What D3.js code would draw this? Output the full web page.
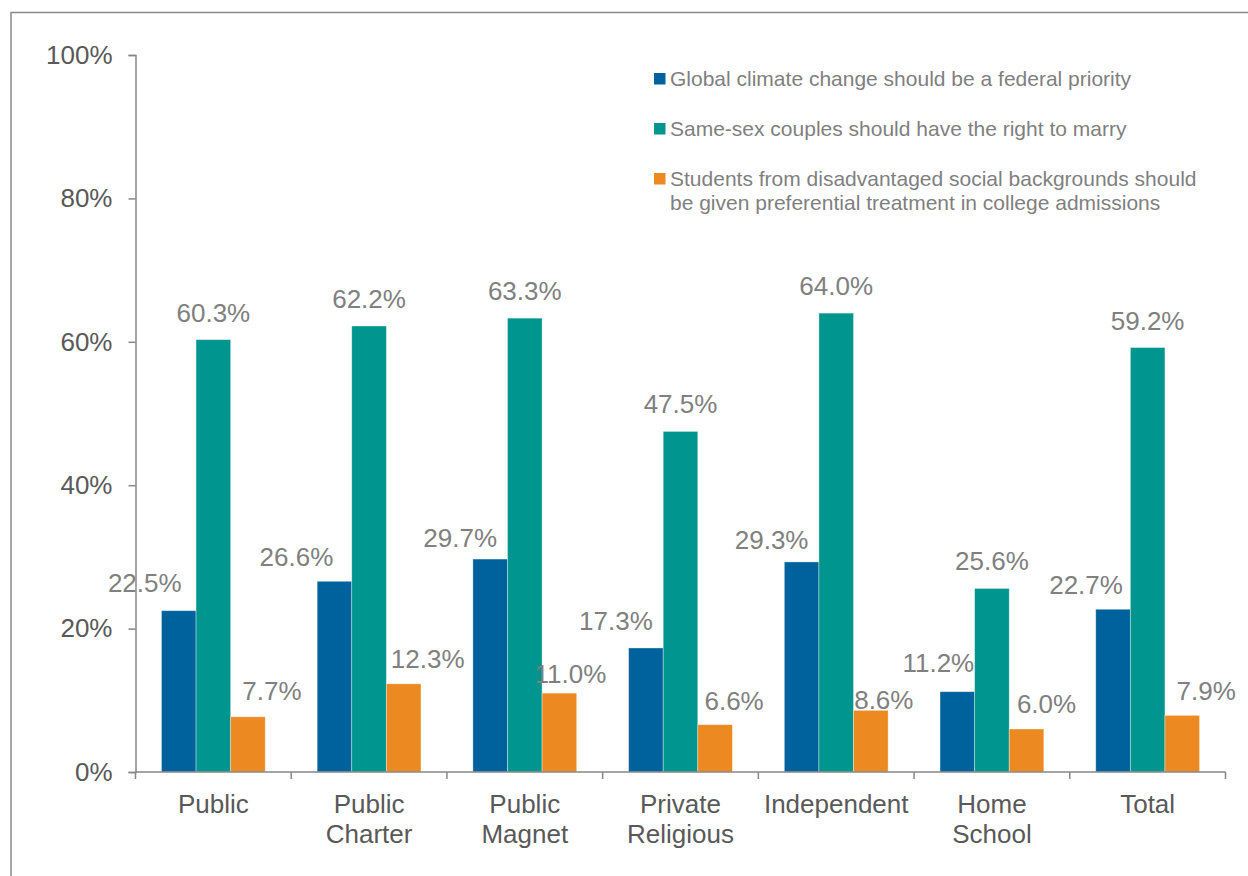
<!DOCTYPE html>
<html>
<head>
<meta charset="utf-8">
<script src="https://cdn.jsdelivr.net/npm/d3@7"></script>
<style>
  html, body { margin: 0; padding: 0; background: #fff; }
  svg { display: block; font-family: "Liberation Sans", Arial, sans-serif; }
</style>
</head>
<body>
<svg id="chart" width="1248" height="876"></svg>
<script>
// School types along the x axis
const categories = ["Public", "Public Charter", "Public Magnet", "Private Religious", "Independent", "Home School", "Total"];

// Series (share of respondents, %)
const seriesNames = [
  "Global climate change should be a federal priority",
  "Same-sex couples should have the right to marry",
  "Students from disadvantaged social backgrounds should be given preferential treatment in college admissions"
];
const climateValues   = [22.5, 26.6, 29.7, 17.3, 29.3, 11.2, 22.7];
const marriageValues  = [60.3, 62.2, 63.3, 47.5, 64.0, 25.6, 59.2];
const admissionValues = [7.7, 12.3, 11.0, 6.6, 8.6, 6.0, 7.9];

// Y axis ticks
const yTicks = [0, 20, 40, 60, 80, 100];

// Hand-placed label nudges (px), one pair per series
const labelDx = [
  [-34, -38, -30, -30, -30, -19, -27],
  [0, 0, 0, 0, 0, 0, 0],
  [24, 24, 11, 19, 13, 20, 24]
];
const labelDy = [
  [-1, 3, 6, 0, 5, -2, 3],
  [0, 0, 0, 0, 0, 0, 0],
  [1, 2, 8, 3, 17, 2, 3]
];

const colors = ["#00629D", "#00958E", "#EC8920"];
const allValues = [climateValues, marriageValues, admissionValues];

const svg = d3.select("#chart");

// Outer frame
svg.append("rect")
  .attr("x", 11).attr("y", 12.5)
  .attr("width", 1400).attr("height", 1000)
  .attr("fill", "none").attr("stroke", "#8a8a8a").attr("stroke-width", 1.5);

const plot = { left: 135.5, right: 1225.5, top: 55, bottom: 772 };

const x0 = d3.scaleBand().domain(categories).range([plot.left, plot.right]).padding(0);
const x1 = d3.scaleBand().domain(d3.range(seriesNames.length))
  .range([0, x0.bandwidth()]).paddingInner(0).paddingOuter(0.75);
const y = d3.scaleLinear().domain([0, 100]).range([plot.bottom, plot.top]);

// Bars
const groups = svg.append("g").selectAll("g")
  .data(categories)
  .join("g")
  .attr("transform", c => `translate(${x0(c)},0)`);

groups.selectAll("rect")
  .data((c, i) => allValues.map((vals, s) => ({ s, v: vals[i] })))
  .join("rect")
  .attr("x", d => x1(d.s))
  .attr("width", x1.bandwidth())
  .attr("y", d => y(d.v))
  .attr("height", d => y(0) - y(d.v))
  .attr("fill", d => colors[d.s])
  .attr("stroke", "#ffffff")
  .attr("stroke-opacity", 0.45)
  .attr("stroke-width", 0.8);

// Value labels
groups.selectAll("text.val")
  .data((c, i) => allValues.map((vals, s) => ({ s, i, v: vals[i] })))
  .join("text")
  .attr("class", "val")
  .attr("x", d => x1(d.s) + x1.bandwidth() / 2 + labelDx[d.s][d.i])
  .attr("y", d => y(d.v) - 18 + labelDy[d.s][d.i])
  .attr("text-anchor", "middle")
  .attr("font-size", 26)
  .attr("fill", "#808080")
  .text(d => d.v.toFixed(1) + "%");

// Y axis
const yAxis = d3.axisLeft(y)
  .tickValues(yTicks)
  .tickSize(7)
  .tickPadding(16)
  .tickFormat(d => d + "%");

const gy = svg.append("g")
  .attr("transform", `translate(${plot.left},0)`)
  .call(yAxis);
gy.select(".domain").attr("stroke", "#878787").attr("stroke-width", 1.5);
gy.selectAll(".tick line").attr("stroke", "#878787").attr("stroke-width", 1.5);
gy.selectAll(".tick text")
  .attr("font-size", 26)
  .attr("font-family", "'Liberation Sans', Arial, sans-serif")
  .attr("fill", "#595959");

// X axis: baseline, boundary ticks and category labels
const gx = svg.append("g");
gx.append("line")
  .attr("x1", plot.left).attr("x2", plot.right)
  .attr("y1", y(0)).attr("y2", y(0))
  .attr("stroke", "#878787").attr("stroke-width", 1.5);

const bounds = categories.map(c => x0(c)).concat([x0.range()[1]]);
gx.selectAll("line.tick")
  .data(bounds)
  .join("line")
  .attr("class", "tick")
  .attr("x1", d => d).attr("x2", d => d)
  .attr("y1", y(0)).attr("y2", y(0) + 7)
  .attr("stroke", "#878787").attr("stroke-width", 1.5);

const catText = gx.selectAll("text.cat")
  .data(categories)
  .join("text")
  .attr("class", "cat")
  .attr("text-anchor", "middle")
  .attr("font-size", 26)
  .attr("fill", "#595959");
catText.each(function (c) {
  const words = c.split(" ");
  const t = d3.select(this);
  words.forEach((w, k) => {
    t.append("tspan")
      .attr("x", x0(c) + x0.bandwidth() / 2)
      .attr("y", 813 + k * 30)
      .text(w);
  });
});

// Legend
const legend = svg.append("g").attr("transform", "translate(654,0)");
const legendRowY = [86, 136, 186];
const maxLegendWidth = 548;

seriesNames.forEach((name, s) => {
  const row = legend.append("g").attr("transform", `translate(0,${legendRowY[s]})`);
  row.append("rect")
    .attr("x", 0).attr("y", -13)
    .attr("width", 11.5).attr("height", 11.5)
    .attr("fill", colors[s]);
  const text = row.append("text")
    .attr("font-size", 21)
    .attr("fill", "#7f7f7f");
  // simple word wrap
  const words = name.split(" ");
  let line = [];
  let lineNo = 0;
  let tspan = text.append("tspan").attr("x", 16).attr("y", 0);
  words.forEach(w => {
    line.push(w);
    tspan.text(line.join(" "));
    if (tspan.node().getComputedTextLength() > maxLegendWidth && line.length > 1) {
      line.pop();
      tspan.text(line.join(" "));
      line = [w];
      lineNo += 1;
      tspan = text.append("tspan").attr("x", 16).attr("y", lineNo * 24).text(w);
    }
  });
});
</script>
</body>
</html>
